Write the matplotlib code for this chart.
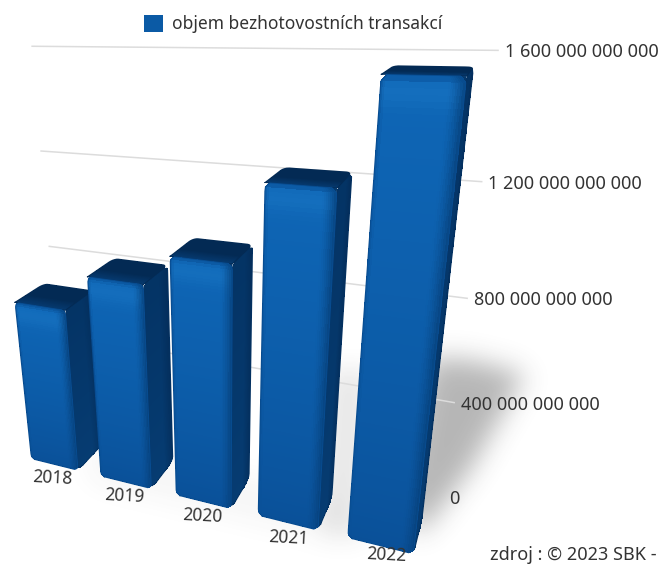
import numpy as np
import matplotlib
matplotlib.use('Agg')
import matplotlib.pyplot as plt
from matplotlib.patches import Patch
from matplotlib.path import Path

years = ['2018', '2019', '2020', '2021', '2022']
volumes = [700e9, 846e9, 962e9, 1240e9, 1569e9]
tick_values = [0, 400e9, 800e9, 1200e9, 1600e9]
tick_labels = ['0', '400 000 000 000', '800 000 000 000', '1 200 000 000 000', '1 600 000 000 000']
series_name = 'objem bezhotovostních transakcí'
source_text = 'zdroj : © 2023 SBK -'

W, H = 663, 566
UNIT = 400e9  # one unit of height in the scene

# camera matrix of the scene: (category, value / UNIT, depth, 1) -> pixel
CAM = np.array([[66.40425, -10.21322, 29.35068, 54.43686],
                [-1.23103, -104.45873, -2.34881, 464.40375],
                [-0.03948, -0.04599, 0.05261, 1.0]])
HALF = 0.34      # half the bar width
WALL_Z = 1.777
WALL_L, WALL_R = -0.55, 4.506

plt.rcParams['font.family'] = ['Noto Sans', 'DejaVu Sans']
TEXT = '#333333'


def project(x, v, z):
    x, v, z = np.broadcast_arrays(x, v, z)
    w = CAM[2, 0] * x + CAM[2, 1] * v + CAM[2, 2] * z + CAM[2, 3]
    u = (CAM[0, 0] * x + CAM[0, 1] * v + CAM[0, 2] * z + CAM[0, 3]) / w
    t = (CAM[1, 0] * x + CAM[1, 1] * v + CAM[1, 2] * z + CAM[1, 3]) / w
    return u, t


def inset(t, rt, rs, low=True, high=True):
    # how far the s range is pulled in near the rounded ends of t
    out = np.zeros_like(t)
    if low:
        d = np.clip((rt - t) / rt, 0, 1)
        out = np.maximum(out, rs * (1 - np.sqrt(1 - d ** 2)))
    if high:
        d = np.clip((t - (1 - rt)) / rt, 0, 1)
        out = np.maximum(out, rs * (1 - np.sqrt(1 - d ** 2)))
    return out


def lerp(a, b, k):
    a, b = np.array(a, float), np.array(b, float)
    k = np.asarray(k)[..., None]
    return a + (b - a) * k


def draw_face(ax, fn, shade, rt, rs, low=True, high=True, edge=None, ns=36, nt=90):
    s = np.linspace(0, 1, ns + 1)
    t = np.linspace(0, 1, nt + 1)
    S, T = np.meshgrid(s, t)
    pull = inset(T, rt, rs, low, high)
    S2 = pull + S * (1 - 2 * pull)
    X, Y = fn(S2, T)
    sc = 0.5 * (S2[:-1, :-1] + S2[1:, 1:])
    tc = 0.5 * (T[:-1, :-1] + T[1:, 1:])
    rgb = np.clip(shade(sc, tc), 0, 255) / 255.0
    ax.pcolormesh(X, Y, rgb, shading='flat', antialiased=False, linewidth=0, zorder=5)
    if edge is not None:
        bx = np.r_[X[0, :], X[:, -1], X[-1, ::-1], X[::-1, 0]]
        by = np.r_[Y[0, :], Y[:, -1], Y[-1, ::-1], Y[::-1, 0]]
        ax.plot(bx, by, color=np.array(edge) / 255.0, lw=0.7, zorder=5, solid_joinstyle='round')


def draw_bar(ax, i, height):
    v = height / UNIT
    x0, x1 = i - HALF, i + HALF
    dx = x1 - x0

    def side_fn(s, t):
        return project(x1, v * t, s)

    def side_shade(s, t):
        col = lerp((3, 46, 92), (6, 60, 114), 1 - t * 0.6)
        col = lerp(col, (3, 40, 82), np.clip((s - 0.6) / 0.4, 0, 1) * 0.6)
        return col
    draw_face(ax, side_fn, side_shade, 0.05 / max(v, 0.1), 0.18, edge=(4, 50, 98))

    def top_fn(s, t):
        return project(x0 + dx * s, v, t)

    def top_shade(s, t):
        return lerp((6, 58, 112), (3, 42, 84), np.clip(t / 0.4, 0, 1))
    draw_face(ax, top_fn, top_shade, 0.2, 0.08, low=False, edge=(3, 42, 84))

    # dark backing under the rounded inner corners of the front face
    px, py = project(np.array([x0 + 0.75 * dx, x1, x1, x0 + 0.1 * dx, x0 + 0.1 * dx, x0 + 0.75 * dx]),
                     v * np.array([0.05, 0.05, 1.0, 1.0, 0.97, 0.97]), 0)
    ax.fill(px, py, color=(5 / 255, 56 / 255, 108 / 255), lw=0, zorder=5)

    def front_fn(s, t):
        return project(x0 + dx * s, v * t, 0)

    band = 0.12 / v

    def front_shade(s, t):
        col = lerp((10, 80, 152), (14, 102, 182), np.clip(t, 0, 1) ** 0.8)
        # soft lit strip under the top edge
        col = lerp(col, (26, 118, 196), np.exp(-((t - (1 - band)) / (band * 0.8)) ** 2) * 0.5)
        col = lerp(col, (10, 84, 156), np.clip((t - (1 - band * 0.4)) / (band * 0.4), 0, 1))
        # both vertical edges roll off
        col = lerp(col, (6, 64, 122), np.clip((s - 0.80) / 0.20, 0, 1) ** 1.5 * 0.85)
        col = lerp(col, (8, 78, 148), np.clip((0.06 - s) / 0.06, 0, 1) * 0.6)
        return col
    draw_face(ax, front_fn, front_shade, 0.06 / v, 0.07, edge=(8, 76, 144))


def soft_mask(poly, sigma):
    yy, xx = np.mgrid[0:H, 0:W]
    inside = Path(poly).contains_points(np.c_[xx.ravel() + 0.5, yy.ravel() + 0.5]).reshape(H, W).astype(float)
    r = int(3 * sigma)
    kernel = np.exp(-0.5 * (np.arange(-r, r + 1) / sigma) ** 2)
    kernel /= kernel.sum()
    inside = np.apply_along_axis(lambda a: np.convolve(a, kernel, mode='same'), 0, inside)
    inside = np.apply_along_axis(lambda a: np.convolve(a, kernel, mode='same'), 1, inside)
    return inside


fig = plt.figure(figsize=(W / 100, H / 100), dpi=100)
ax = fig.add_axes([0, 0, 1, 1])
ax.set_xlim(0, W)
ax.set_ylim(H, 0)
ax.axis('off')

# cast shadow on the floor, strongest right of the tallest bar
shade = 0.38 * soft_mask([(430, 358), (470, 360), (525, 374), (470, 470), (420, 535), (400, 500)], 13)
shade += 0.12 * soft_mask([(330, 370), (370, 370), (360, 540), (320, 530)], 12)
shade += 0.05 * soft_mask([(90, 440), (340, 500), (340, 540), (90, 480)], 14)
img = np.zeros((H, W, 4))
img[..., :3] = 0.25
img[..., 3] = np.clip(shade, 0, 1)
ax.imshow(img, extent=(0, W, H, 0), zorder=1, aspect='auto', interpolation='bilinear')
ax.set_xlim(0, W)
ax.set_ylim(H, 0)

# value grid on the back wall
for val in tick_values[1:]:
    gx, gy = project(np.array([WALL_L, WALL_R]), val / UNIT, WALL_Z)
    ax.plot(gx, gy, color='#dcdcdc', lw=1.1, zorder=2, solid_capstyle='butt')

for i, height in enumerate(volumes):
    draw_bar(ax, i, height)

for val, lab in zip(tick_values, tick_labels):
    tx, ty = project(WALL_R, val / UNIT, WALL_Z)
    ax.text(float(tx) + 6, float(ty) + 2, lab, fontsize=13, color=TEXT, va='center', ha='left', zorder=6)

for i, lab in enumerate(years):
    lx, ly = project(i, 0, -0.28)
    ax.text(float(lx) + 5 + (i == 4) * 4, float(ly) + 6 - (i == 4) * 7, lab, fontsize=12.5, color=TEXT,
            ha='center', va='center', rotation=-3, zorder=6)

ax.text(490, 555, source_text, fontsize=13, color=TEXT, ha='left', va='center', zorder=6)

handle = Patch(facecolor='#0b5aa5', edgecolor='none', label=series_name)
ax.legend(handles=[handle], loc='center', bbox_to_anchor=(293 / W, 1 - 24 / H), frameon=False,
          fontsize=12.5, handlelength=1.1, handleheight=1.1, labelcolor=TEXT, borderpad=0,
          handletextpad=0.55)

fig.savefig('out.png', dpi=100)
